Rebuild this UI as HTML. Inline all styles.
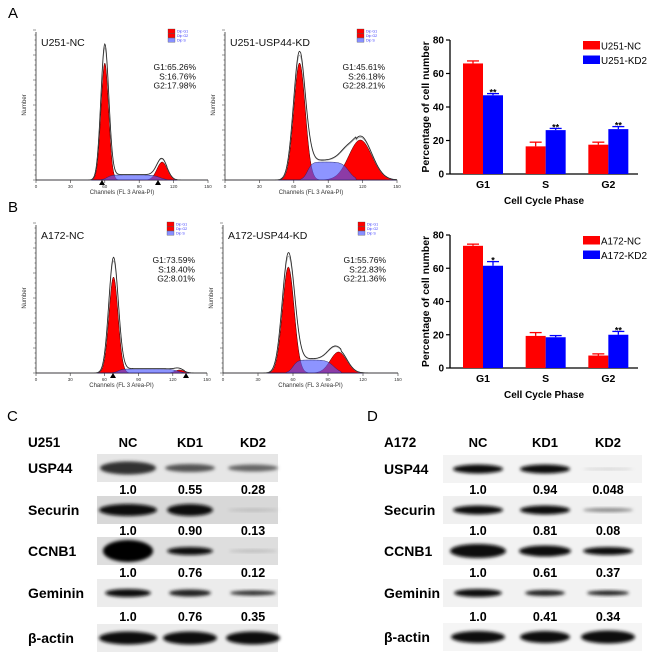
<!DOCTYPE html>
<html><head><meta charset="utf-8">
<style>
html,body{margin:0;padding:0;background:#fff;}
svg{display:block;font-family:"Liberation Sans",Arial,sans-serif;}
.b{font-weight:bold;}
</style></head>
<body>
<svg id="fig" width="650" height="658" viewBox="0 0 650 658" xmlns="http://www.w3.org/2000/svg">
<defs>
<filter id="blur" x="-20%" y="-50%" width="140%" height="200%"><feGaussianBlur stdDeviation="1.6"/></filter>
</defs>
<g id="root"></g>
</svg>
<script>
// ---- Bar chart data ----
const phases = ["G1","S","G2"];
const u251NC = [66, 16.5, 17.5];
const u251KD2 = [47, 26.2, 26.8];
const u251NCErr = [1.5, 2.5, 1.5];
const u251KD2Err = [1, 1, 1.5];
const u251Sig = ["**","**","**"];
const a172NC = [73.5, 19.3, 7.5];
const a172KD2 = [61.5, 18.5, 20];
const a172NCErr = [1, 2, 1];
const a172KD2Err = [2.5, 1, 2];
const a172Sig = ["*","","**"];
const yTicks = [0,20,40,60,80];

// ---- Histogram fit components: [mean channel, sd, height(px)] ----
const hA1 = {g1:[60,3.3,117], g2:[110,4.5,18], s:[62,108,5], outline:1.15};
const hA2 = {g1:[65,5,117], g2:[118,10,40], s:[72,108,18], outline:1.1};
const hB1 = {g1:[68,4,96], g2:[126,4,3], s:[72,124,4], outline:1.2};
const hB2 = {g1:[56,5,106], g2:[99,7,21], s:[60,95,13], outline:1.12};
const histTicks = [0,30,60,90,120,150];

// ---- Blot quantification ----
const cLanes = ["NC","KD1","KD2"];
const cProteins = ["USP44","Securin","CCNB1","Geminin","β-actin"];
const cValues = [["1.0","0.55","0.28"],["1.0","0.90","0.13"],["1.0","0.76","0.12"],["1.0","0.76","0.35"]];
const dValues = [["1.0","0.94","0.048"],["1.0","0.81","0.08"],["1.0","0.61","0.37"],["1.0","0.41","0.34"]];

const NS="http://www.w3.org/2000/svg";
const root=document.getElementById('root');
function mk(tag,attrs,parent,txt){const e=document.createElementNS(NS,tag);for(const k in attrs)e.setAttribute(k,attrs[k]);if(txt!==undefined)e.textContent=txt;(parent||root).appendChild(e);return e;}

// panel letters
[["A",8,18],["B",8,212],["C",7,421],["D",367,421]].forEach(([t,x,y])=>{
 const e=mk('text',{x:x,y:y,'font-size':15},root,t);
 
 
});

// ---- histograms ----
function gauss(x,m,s,h){return h*Math.exp(-0.5*((x-m)/s)**2);}
function sComp(x,a,b,h){ if(x<a-6||x>b+6) return 0; const e1=1/(1+Math.exp(-(x-a)/2)), e2=1/(1+Math.exp((x-b)/3)); return h*e1*e2;}
function hist(cfg,x0,x1,base,title,stats,name){
 const g=mk('g',{});
 
 
 const sx=c=>x0+(c/150)*(x1-x0);
 mk('line',{x1:x0,y1:base-148,x2:x0,y2:base,stroke:'#333','stroke-width':0.8},g);
 mk('line',{x1:x0,y1:base,x2:x1,y2:base,stroke:'#333','stroke-width':0.8},g);
 for(let i=0;i<=30;i++){mk('line',{x1:x0-(i%5?1.5:3),y1:base-i*5,x2:x0,y2:base-i*5,stroke:'#333','stroke-width':0.5},g);}
 histTicks.forEach(t=>{mk('line',{x1:sx(t),y1:base,x2:sx(t),y2:base+3,stroke:'#333','stroke-width':0.6},g);
  const tl=mk('text',{x:sx(t),y:base+8,'font-size':4.5,'text-anchor':'middle',fill:'#333'},g,t);
  });
 const xl=mk('text',{x:(x0+x1)/2,y:base+14,'font-size':6,'text-anchor':'middle',fill:'#333'},g,'Channels (FL 3 Area-PI)');
 
 const yl=mk('text',{x:0,y:0,'font-size':6,'text-anchor':'middle',fill:'#333',transform:`translate(${x0-10},${base-75}) rotate(-90)`},g,'Number');
 
 let pG1='',pG2='',pS='',pO='',pO2='';
 for(let c=0;c<=150;c+=0.5){
  const X=sx(c).toFixed(2);
  const a=gauss(c,...cfg.g1), b=gauss(c,...cfg.g2), s=sComp(c,...cfg.s);
  pG1+=(c?'L':'M')+X+','+(base-a).toFixed(2);
  pG2+=(c?'L':'M')+X+','+(base-b).toFixed(2);
  pS+=(c?'L':'M')+X+','+(base-s).toFixed(2);
  const tot=gauss(c,cfg.g1[0],cfg.g1[1]*1.05,cfg.g1[2]*cfg.outline)+b*1.1+s*1.1;
  pO+=(c?'L':'M')+X+','+(base-tot).toFixed(2);
  pO2+=(c?'L':'M')+X+','+(base-tot*0.97).toFixed(2);
 }
 const close=`L${sx(150)},${base}L${sx(0)},${base}Z`;
 const e1=mk('path',{d:pG1+close,fill:'#f00',stroke:'#300','stroke-width':0.5},g);
 const e2=mk('path',{d:pG2+close,fill:'#f00',stroke:'#300','stroke-width':0.5},g);
 const e3=mk('path',{d:pS+close,fill:'rgba(80,90,255,0.65)',stroke:'#226','stroke-width':0.5},g);
 mk('path',{d:pO2,fill:'none',stroke:'#aaa','stroke-width':0.8},g);
 const e4=mk('path',{d:pO,fill:'none',stroke:'#222','stroke-width':0.8},g);
 const tt=mk('text',{x:x0+5,y:base-134,'font-size':10.5,fill:'#111'},g,title);
 
 stats.forEach((s,i)=>{const st=mk('text',{x:x1-12,y:base-110+i*9.3,'font-size':8.5,'text-anchor':'end',fill:'#111'},g,s);
  });
 const lx=x1-40,ly=base-151;
 [['#f00','Dip G1'],['#f00','Dip G2'],['#8890ff','Dip S']].forEach(([c,t],i)=>{
  mk('rect',{x:lx,y:ly+i*4.5,width:7,height:4.3,fill:c,stroke:'#444','stroke-width':0.3},g);
  const lt=mk('text',{x:lx+9,y:ly+i*4.5+3.5,'font-size':3.6,fill:'#33f'},g,t);
  
 });
}
hist(hA1,36,208,180,'U251-NC',['G1:65.26%','S:16.76%','G2:17.98%'],'histogram-u251-nc');
hist(hA2,225,397,180,'U251-USP44-KD',['G1:45.61%','S:26.18%','G2:28.21%'],'histogram-u251-kd');
hist(hB1,36,207,373,'A172-NC',['G1:73.59%','S:18.40%','G2:8.01%'],'histogram-a172-nc');
hist(hB2,223,398,373,'A172-USP44-KD',['G1:55.76%','S:22.83%','G2:21.36%'],'histogram-a172-kd');
[[102,180],[158,180],[113,373],[186,373]].forEach(([x,y])=>mk('path',{d:`M${x-3},${y+5}L${x+3},${y+5}L${x},${y}Z`,fill:'#000'}));

// ---- bar charts ----
function bars(nc,kd,ncE,kdE,sig,base,top,legend,name){
 const g=mk('g',{});
 
 
 const x0=450,x1=638;
 const sy=v=>base-(v/80)*(base-top);
 mk('line',{x1:x0,y1:top,x2:x0,y2:base,stroke:'#000','stroke-width':1.3},g);
 mk('line',{x1:x0,y1:base,x2:x1,y2:base,stroke:'#000','stroke-width':1.3},g);
 yTicks.forEach(t=>{mk('line',{x1:x0-4,y1:sy(t),x2:x0,y2:sy(t),stroke:'#000','stroke-width':1.2},g);
  const tl=mk('text',{x:x0-6,y:sy(t)+3.5,'font-size':10,'text-anchor':'end',class:'b'},g,t);
  });
 const yt=mk('text',{x:0,y:0,'font-size':10.5,'text-anchor':'middle',class:'b',transform:`translate(${x0-21},${(top+base)/2}) rotate(-90)`},g,'Percentage of cell number');
 
 const bw=20, gw=(x1-x0)/3;
 phases.forEach((p,i)=>{
  const cx=x0+13+gw*i+20;
  const xl=mk('text',{x:cx,y:base+14,'font-size':10.5,'text-anchor':'middle',class:'b'},g,p);
  
  [[nc,ncE,'#f00',cx-bw],[kd,kdE,'#00f',cx]].forEach(([arr,err,col,bx],j)=>{
   const v=arr[i];
   mk('line',{x1:bx+bw/2,y1:sy(v),x2:bx+bw/2,y2:sy(v+err[i]),stroke:col,'stroke-width':1.3},g);
   mk('line',{x1:bx+bw/2-6,y1:sy(v+err[i]),x2:bx+bw/2+6,y2:sy(v+err[i]),stroke:col,'stroke-width':1.3},g);
   const r=mk('rect',{x:bx,y:sy(v),width:bw,height:base-sy(v),fill:col},g);
   
   
   if(j&&sig[i]){const st=mk('text',{x:bx+bw/2,y:sy(v+err[i])+2,'font-size':9,'text-anchor':'middle',class:'b'},g,sig[i]);
    }
  });
 });
 const xt=mk('text',{x:544,y:base+30,'font-size':10,'text-anchor':'middle',class:'b'},g,'Cell Cycle Phase');
 
 legend.forEach(([c,t],i)=>{
  mk('rect',{x:583,y:top+1+i*14.5,width:17,height:8.5,fill:c},g);
  const lt=mk('text',{x:601,y:top+9.5+i*14.5,'font-size':10.5,textLength:t.length>7?46:40,lengthAdjust:'spacingAndGlyphs'},g,t);
  
 });
}
bars(u251NC,u251KD2,u251NCErr,u251KD2Err,u251Sig,174,40,[['#f00','U251-NC'],['#00f','U251-KD2']],'bar-chart-u251');
bars(a172NC,a172KD2,a172NCErr,a172KD2Err,a172Sig,368,235,[['#f00','A172-NC'],['#00f','A172-KD2']],'bar-chart-a172');

// ---- western blots ----
function blot(cell,labelX,lanesX,boxX0,boxX1,rowsY,numY,vals,bands,name){
 const g=mk('g',{});
 
 
 const h=mk('text',{x:labelX,y:447,'font-size':13.5,class:'b'},g,cell);
 
 cLanes.forEach((l,i)=>{const t=mk('text',{x:lanesX[i],y:447,'font-size':13,'text-anchor':'middle',class:'b'},g,l);
  });
 cProteins.forEach((p,r)=>{
  const cy=rowsY[r];
  mk('rect',{x:boxX0,y:cy-14,width:boxX1-boxX0,height:28,fill:bands.bg[r]},g);
  const t=mk('text',{x:labelX,y:cy+5,'font-size':14,class:'b'},g,p);
  
  bands.rows[r].forEach(([w,hh,col],i)=>{
   const e=mk('ellipse',{cx:lanesX[i],cy:cy,rx:w/2,ry:hh/2,fill:col,filter:'url(#blur)'},g);
   
  });
  if(r<4) vals[r].forEach((v,i)=>{const t2=mk('text',{x:lanesX[i],y:numY[r],'font-size':12.5,'text-anchor':'middle',class:'b'},g,v);
   });
 });
}
blot('U251',28,[128,190,253],97,278,[468,510,551,593,638],[494,535,577,621],cValues,{
 bg:['#e6e6e6','#d8d8d8','#dedede','#ececec','#ececec'],
 rows:[[[56,13,'#333'],[50,8,'#555'],[50,7,'#666']],
       [[58,12,'#080808'],[46,12,'#111'],[50,3,'#bbb']],
       [[50,22,'#050505'],[46,8,'#111'],[48,3,'#bbb']],
       [[46,8,'#111'],[42,7,'#222'],[46,5,'#333']],
       [[58,13,'#111'],[54,13,'#111'],[54,13,'#111']]]});
blot('A172',384,[478,545,608],443,642,[469,510,551,593,637],[494,535,577,621],dValues,{
 bg:['#f3f3f3','#f0f0f0','#f2f2f2','#f2f2f2','#f5f5f5'],
 rows:[[[50,9,'#111'],[50,9,'#111'],[50,2,'#ccc']],
       [[50,9,'#111'],[50,9,'#111'],[50,4,'#888']],
       [[56,14,'#080808'],[52,11,'#111'],[50,8,'#111']],
       [[48,8,'#111'],[40,6,'#222'],[42,5,'#222']],
       [[54,12,'#111'],[50,12,'#111'],[54,13,'#111']]]});
</script>
</body></html>
